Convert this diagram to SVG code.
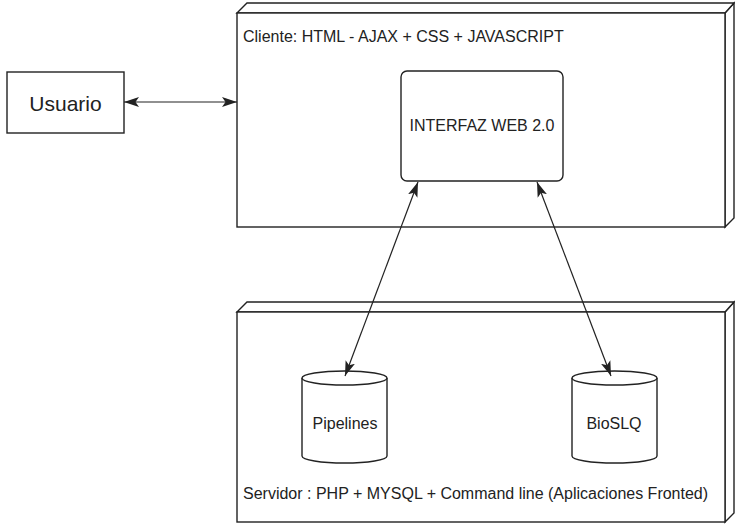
<svg xmlns="http://www.w3.org/2000/svg" width="735" height="529" viewBox="0 0 735 529">
  <style>
    .edge { fill: #fff; stroke: #222; stroke-width: 1.4; stroke-linejoin: miter; }
    .shape { fill: #fff; stroke: #222; stroke-width: 1.4; }
    .link { fill: none; stroke: #222; stroke-width: 1.2; marker-start: url(#head); marker-end: url(#head); }
    text { font-family: "Liberation Sans", Arial, sans-serif; fill: #222; }
    .lbl { font-size: 16px; }
    .mid { font-size: 16px; text-anchor: middle; }
  </style>
  <defs>
    <marker id="head" viewBox="0 0 15 11" refX="15" refY="5.5" markerWidth="15" markerHeight="11" markerUnits="userSpaceOnUse" orient="auto-start-reverse">
      <path d="M0,0.5 L15,5.5 L0,10.5 L3.5,5.5 Z" fill="#222"/>
    </marker>
  </defs>
  <rect width="735" height="529" fill="#fff"/>

  <!-- client node (3D box) -->
  <g id="cliente">
    <path class="edge" d="M725,13 L734,3 L734,218 L725,227 Z"/>
    <path class="edge" d="M237,13 L247,3 L734,3 L725,13 Z"/>
    <rect class="edge" x="237" y="13" width="488" height="214"/>
    <text class="lbl" x="243" y="41.5">Cliente: HTML - AJAX + CSS + JAVASCRIPT</text>
  </g>

  <!-- server node (3D box) -->
  <g id="servidor">
    <path class="edge" d="M725,312 L734,302 L734,513 L725,522 Z"/>
    <path class="edge" d="M237,312 L247,302 L734,302 L725,312 Z"/>
    <rect class="edge" x="237" y="312" width="488" height="210"/>
    <text class="lbl" x="243" y="499">Servidor : PHP + MYSQL + Command line (Aplicaciones Fronted)</text>
  </g>

  <g id="usuario">
    <rect class="shape" x="7" y="72" width="117" height="61"/>
    <text x="65.5" y="110.5" font-size="21" text-anchor="middle">Usuario</text>
  </g>

  <g id="interfaz">
    <rect class="shape" x="401" y="71" width="162" height="110" rx="6" ry="6"/>
    <text class="mid" x="482" y="131">INTERFAZ WEB 2.0</text>
  </g>

  <g id="pipelines">
    <path class="shape" d="M302,378 L302,456 A42.5,7 0 0 0 387,456 L387,378"/>
    <ellipse class="shape" cx="344.5" cy="378" rx="42.5" ry="7"/>
    <text class="mid" x="345" y="429">Pipelines</text>
  </g>

  <g id="bioslq">
    <path class="shape" d="M572,378 L572,456 A42.5,7 0 0 0 657,456 L657,378"/>
    <ellipse class="shape" cx="614.5" cy="378" rx="42.5" ry="7"/>
    <text class="mid" x="614" y="429">BioSLQ</text>
  </g>

  <g id="connectors">
    <line class="link" x1="124" y1="102" x2="237" y2="102"/>
    <line class="link" x1="418" y1="182" x2="345" y2="376"/>
    <line class="link" x1="537" y1="182" x2="611" y2="376"/>
  </g>
</svg>
